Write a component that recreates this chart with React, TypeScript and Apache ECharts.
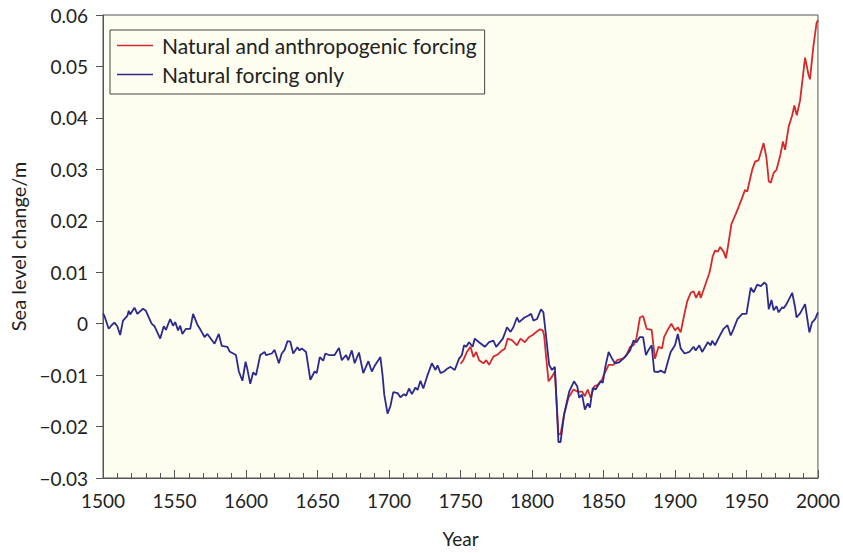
import React, { useEffect, useRef } from "react";
import * as echarts from "echarts";

// Natural forcing only (year, sea level change in mm)
const naturalYears = [
  1500, 1501, 1504, 1506, 1508, 1510, 1512, 1514, 1517, 1518, 1519, 1522, 1524, 1528, 1530, 1534, 1536, 1540, 1542.5, 1544,
  1547, 1549, 1550.5, 1552.5, 1554, 1555.5, 1558, 1561, 1563, 1566, 1568, 1571, 1573, 1578, 1581, 1583, 1587, 1588.5, 1593, 1595,
  1597.5, 1599.7, 1600.7, 1603, 1605, 1607, 1610, 1613, 1614, 1618, 1620, 1623, 1625, 1627, 1629, 1631, 1633, 1636, 1637.5, 1639,
  1642, 1645, 1648, 1649.5, 1651.6, 1654, 1655.5, 1658, 1662, 1665, 1667, 1670, 1671.5, 1674, 1676, 1679, 1682, 1685.6, 1688, 1690,
  1694, 1695.5, 1696.7, 1699, 1701, 1703, 1706, 1708, 1710.5, 1712, 1714, 1716, 1718.5, 1720, 1722, 1724, 1726.6, 1730, 1732.5, 1734,
  1736, 1738.5, 1741, 1743, 1746, 1749, 1751, 1752.5, 1754, 1756, 1758.5, 1760, 1763, 1767, 1770, 1773, 1775, 1779.6, 1781, 1782.5,
  1785, 1787, 1789.5, 1791, 1794.8, 1797, 1799.4, 1801, 1803.5, 1806.3, 1808, 1809.8, 1812, 1814, 1816, 1817.4, 1818.5, 1820, 1822.5, 1826,
  1829.4, 1831.7, 1833, 1835, 1837, 1839, 1840.5, 1842.5, 1844.5, 1848, 1849.5, 1851.3, 1853.6, 1856, 1858, 1861, 1865, 1868.6, 1871, 1873,
  1875.5, 1877.7, 1879.7, 1881.5, 1883.7, 1885.5, 1888.3, 1890, 1892.9, 1895, 1897, 1900, 1902, 1904, 1906.7, 1910, 1913, 1914.5, 1917, 1919,
  1923, 1925, 1926, 1928, 1932, 1934, 1936.7, 1939, 1941, 1943.7, 1947, 1950, 1953, 1955, 1957.5, 1960, 1962.6, 1964, 1965.6, 1967.5,
  1969, 1971, 1972.5, 1975, 1976, 1978, 1982, 1984, 1985, 1987.5, 1991, 1994, 1995.8, 1998, 2000,
];
const naturalMm = [
  2.0, 1.5, -1.0, -0.3, 0.2, -0.5, -2.2, 0.6, 1.5, 2.5, 1.8, 3.1, 1.9, 2.9, 2.5, 0.0, -0.5, -2.9, -0.5, -1.2,
  0.9, -0.4, 0.3, -1.3, -0.4, -2.0, -1.0, -1.0, 1.9, -0.2, -1.1, -2.6, -2.0, -3.9, -2.0, -4.3, -4.5, -5.4, -6.1, -9.3,
  -11.1, -7.4, -8.5, -11.7, -9.5, -10.0, -6.1, -5.5, -6.1, -5.8, -5.1, -7.7, -5.8, -5.1, -3.4, -3.5, -5.8, -4.6, -5.2, -4.8,
  -5.5, -10.9, -9.3, -9.6, -6.5, -7.2, -5.8, -6.1, -6.1, -4.7, -7.1, -6.1, -7.1, -5.2, -7.7, -5.6, -9.6, -7.3, -9.3, -8.2,
  -6.5, -10.0, -13.8, -17.5, -16.0, -13.3, -13.5, -14.3, -13.7, -14.0, -12.6, -13.7, -12.4, -12.9, -11.1, -12.6, -10.3, -7.7, -9.0, -8.1,
  -9.6, -9.3, -8.7, -8.4, -9.0, -6.8, -6.1, -4.2, -4.5, -3.6, -4.5, -2.9, -3.6, -4.5, -3.6, -3.3, -4.5, -2.9, -1.9, -0.7,
  -1.6, -0.7, 1.2, 0.3, 1.2, 1.5, 1.9, 0.6, 0.9, 2.8, 2.2, -2.3, -8.0, -9.0, -8.4, -16.3, -23.0, -23.0, -17.6, -13.2,
  -11.2, -12.2, -14.4, -13.8, -16.7, -15.5, -16.3, -12.5, -12.8, -11.2, -11.5, -8.4, -5.5, -6.8, -7.7, -7.5, -6.5, -5.2, -3.3, -3.6,
  -2.6, -2.6, -6.1, -5.1, -4.2, -9.3, -9.4, -9.1, -9.6, -7.4, -5.5, -4.2, -2.0, -4.8, -5.8, -5.5, -4.5, -5.2, -4.2, -5.5,
  -3.6, -4.2, -3.3, -4.2, -2.0, -1.0, -0.3, -2.3, -1.0, 0.9, 1.9, 1.9, 7.0, 6.1, 7.6, 7.3, 8.0, 7.6, 2.8, 4.6,
  2.6, 3.4, 2.2, 3.2, 3.0, 3.8, 6.0, 3.2, 1.2, 2.0, 3.8, -1.7, 0.2, 0.9, 2.2,
];

// Natural and anthropogenic forcing (year, sea level change in mm)
const combinedYears = [
  1750, 1752, 1754.5, 1757, 1759, 1761, 1763, 1766, 1768, 1770, 1773, 1776, 1779, 1781, 1783, 1786, 1789.5, 1792, 1795, 1798,
  1800.5, 1803, 1805.6, 1807.5, 1808.5, 1810, 1811.6, 1814, 1816, 1817.4, 1818.5, 1820, 1822.5, 1825.5, 1829, 1831.7, 1835, 1837, 1839, 1841,
  1843.5, 1846, 1849, 1850.2, 1853.6, 1857, 1859.5, 1863.6, 1866, 1868.6, 1871, 1873, 1875.5, 1877.7, 1880.2, 1883.7, 1886, 1888.5, 1891, 1892.4,
  1894.7, 1897.5, 1900, 1902, 1904, 1906.3, 1908.6, 1911, 1913, 1914.8, 1917, 1918, 1922.5, 1924, 1925, 1926.3, 1928, 1930, 1931.6, 1934,
  1935.6, 1937, 1939.5, 1942.5, 1944.8, 1947, 1949, 1950.5, 1954, 1956, 1958.5, 1962, 1964, 1965.6, 1967, 1969, 1971, 1973.7, 1975.5, 1977,
  1979.5, 1982, 1983.5, 1985.2, 1987.5, 1991, 1993.3, 1994.4, 1996.8, 1999, 2000,
];
const combinedMm = [
  -7.8, -7.1, -5.5, -4.5, -6.5, -5.5, -7.1, -7.7, -7.1, -8.0, -6.4, -6.0, -5.2, -4.9, -2.9, -3.2, -4.2, -2.9, -3.6, -2.6,
  -2.2, -1.6, -1.1, -1.3, -2.3, -6.8, -11.2, -10.3, -9.3, -16.3, -21.5, -21.5, -17.6, -14.4, -12.8, -13.2, -13.2, -14.1, -12.8, -14.4,
  -12.2, -11.9, -10.9, -10.0, -8.0, -8.0, -7.1, -6.8, -6.1, -4.5, -4.2, -2.9, 1.2, 1.5, -1.0, -1.2, -6.8, -4.5, -4.8, -2.6,
  -1.3, 0.0, -1.3, -0.7, -1.7, 1.5, 4.4, 6.0, 6.3, 5.0, 6.3, 5.0, 8.6, 9.8, 11.0, 13.0, 14.2, 14.0, 14.9, 14.0,
  12.7, 14.9, 19.4, 21.3, 22.9, 24.5, 26.0, 25.7, 29.9, 31.5, 31.8, 35.1, 32.2, 27.7, 27.4, 29.3, 29.9, 32.8, 35.4, 33.8,
  38.3, 40.5, 42.4, 40.5, 43.4, 51.7, 48.5, 47.5, 53.9, 58.4, 59.0,
];

const seriesNames = ["Natural and anthropogenic forcing", "Natural forcing only"];
const xTicks = [1500, 1550, 1600, 1650, 1700, 1750, 1800, 1850, 1900, 1950, 2000];

const toPairs = (xs: number[], ys: number[]) => xs.map((x, i) => [x, ys[i] / 1000]);

const FONT = "Lato, 'Noto Sans', sans-serif";

export default function App() {
  const ref = useRef<HTMLDivElement>(null);
  useEffect(() => {
    if (!ref.current) return;
    const chart = echarts.init(ref.current, undefined, { renderer: "svg" });
    chart.setOption({
      animation: false,
      backgroundColor: "#ffffff",
      textStyle: { fontFamily: FONT, color: "#222" },
      grid: {
        left: 96,
        right: 25,
        top: 15,
        bottom: 68,
        show: true,
        backgroundColor: "#fdfdf0",
        borderColor: "#555",
        borderWidth: 1,
      },
      legend: {
        orient: "vertical",
        left: 110,
        top: 30,
        data: seriesNames,
        icon: "rect",
        itemWidth: 36,
        itemHeight: 1.5,
        itemGap: 8,
        padding: [5, 8, 9, 7],
        borderColor: "#444",
        borderWidth: 1,
        backgroundColor: "#fdfdf0",
        textStyle: { fontFamily: FONT, fontSize: 21, color: "#222", padding: [0, 0, 0, 4] },
      },
      xAxis: {
        type: "value",
        min: xTicks[0],
        max: xTicks[xTicks.length - 1],
        interval: 50,
        name: "Year",
        nameLocation: "middle",
        nameGap: 51,
        nameTextStyle: { fontFamily: FONT, fontSize: 19, color: "#222" },
        axisLine: { onZero: false, lineStyle: { color: "#555", width: 1 } },
        axisTick: { inside: true, length: 8, lineStyle: { color: "#555" } },
        minorTick: { show: true, splitNumber: 5, length: 5, lineStyle: { color: "#555" } },
        splitLine: { show: false },
        axisLabel: {
          fontFamily: FONT,
          fontSize: 19,
          color: "#222",
          margin: 13,
          formatter: (v: number) => String(v),
        },
      },
      yAxis: {
        type: "value",
        min: -0.03,
        max: 0.06,
        interval: 0.01,
        name: "Sea level change/m",
        nameLocation: "middle",
        nameGap: 75,
        nameTextStyle: { fontFamily: FONT, fontSize: 20, color: "#222" },
        axisLine: { show: true, onZero: false, lineStyle: { color: "#555", width: 1 } },
        axisTick: { show: true, inside: false, length: 7, lineStyle: { color: "#555" } },
        splitLine: { show: false },
        axisLabel: {
          fontFamily: FONT,
          fontSize: 19,
          color: "#222",
          margin: 15,
          formatter: (v: number) => {
            const r = Math.round(v * 100) / 100;
            if (r === 0) return "0";
            return r < 0 ? "\u2212" + Math.abs(r).toFixed(2) : r.toFixed(2);
          },
        },
      },
      series: [
        {
          name: seriesNames[0],
          type: "line",
          data: toPairs(combinedYears, combinedMm),
          showSymbol: false,
          symbol: "none",
          lineStyle: { color: "#d42a2e", width: 1.8 },
          itemStyle: { color: "#d42a2e" },
          z: 2,
        },
        {
          name: seriesNames[1],
          type: "line",
          data: toPairs(naturalYears, naturalMm),
          showSymbol: false,
          symbol: "none",
          lineStyle: { color: "#2c2a8c", width: 1.8 },
          itemStyle: { color: "#2c2a8c" },
          z: 3,
        },
      ],
    });
    return () => chart.dispose();
  }, []);
  return (
    <div
      ref={ref}
      style={{ position: "absolute", left: 0, top: 0, width: 843, height: 553 }}
    />
  );
}
